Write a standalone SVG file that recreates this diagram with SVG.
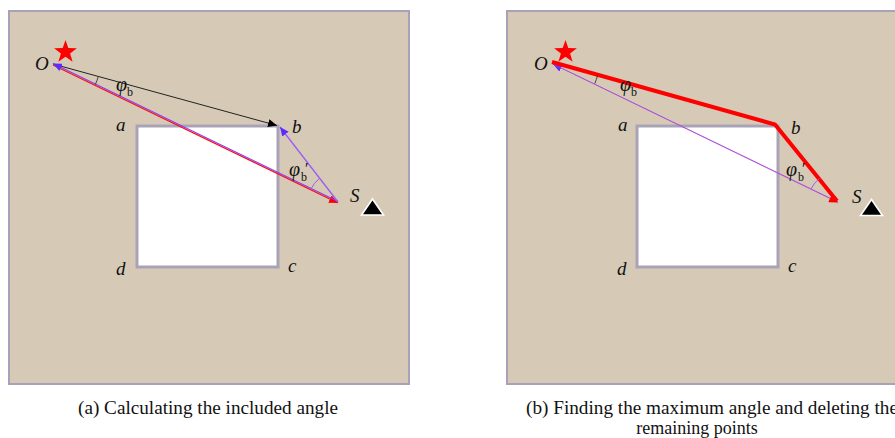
<svg xmlns="http://www.w3.org/2000/svg" width="895" height="438" viewBox="0 0 895 438">
  <style>
    .panel { fill: #d6cab6; stroke: #a9a1b7; stroke-width: 2; }
    .hole { fill: #ffffff; stroke: #a9a3b8; stroke-width: 3; }
    .serif { font-family: 'Liberation Serif', 'DejaVu Serif', serif; }
    .lbl { font-style: italic; font-size: 19px; fill: #111; }
    .phi { font-style: italic; font-size: 20px; fill: #111; }
    .sub { font-style: normal; font-size: 12px; }
    .prime { font-style: normal; font-size: 16px; }
    .cap { font-size: 18px; fill: #111; }
    .tri { fill: #000; stroke: #fff; stroke-width: 1.6; stroke-linejoin: miter; }
    .star { fill: #ff0000; }
  </style>
  <defs>
    <marker id="ahBlack" markerUnits="userSpaceOnUse" markerWidth="10" markerHeight="8" refX="9" refY="4" orient="auto">
      <path d="M0,0 L9,4 L0,8 z" fill="#000"/>
    </marker>
    <marker id="ahBlue" markerUnits="userSpaceOnUse" markerWidth="10" markerHeight="8" refX="9" refY="4" orient="auto">
      <path d="M0,0 L9,4 L0,8 z" fill="#5a2cff"/>
    </marker>
    <marker id="ahRed" markerUnits="userSpaceOnUse" markerWidth="10" markerHeight="8" refX="9" refY="4" orient="auto">
      <path d="M0,0 L9,4 L0,8 z" fill="#ff0000"/>
    </marker>
    <polygon id="star" class="star" points="0,-12 2.8,-3.9 11.4,-3.7 4.6,1.5 7.1,9.7 0,4.8 -7.1,9.7 -4.6,1.5 -11.4,-3.7 -2.8,-3.9"/>
    <polygon id="tri" class="tri" points="0,-16 11,0 -11,0"/>
  </defs>

  <!-- Panel (a) -->
  <g id="panel-a">
    <rect class="panel" x="9" y="11" width="400" height="373"/>
    <rect class="hole" x="137" y="126" width="141" height="141"/>
  </g>
  <g id="a-node-O">
    <use href="#star" x="65.5" y="52"/>
    <text class="serif lbl" x="35" y="70">O</text>
  </g>
  <g id="a-node-a"><text class="serif lbl" x="116" y="131">a</text></g>
  <g id="a-node-b"><text class="serif lbl" x="292" y="133">b</text></g>
  <g id="a-node-c"><text class="serif lbl" x="288" y="272">c</text></g>
  <g id="a-node-d"><text class="serif lbl" x="116" y="275">d</text></g>
  <g id="a-node-S">
    <text class="serif lbl" x="350" y="202">S</text>
    <use href="#tri" x="372.5" y="215"/>
  </g>
  <g id="a-connectors" fill="none">
    <line x1="53" y1="64" x2="277" y2="125.5" stroke="#222" stroke-width="1" marker-end="url(#ahBlack)"/>
    <line x1="53" y1="65" x2="338" y2="203" stroke="#ff1010" stroke-width="1.3" marker-end="url(#ahRed)"/>
    <line x1="338" y1="201.5" x2="53" y2="63.5" stroke="#8a3cf0" stroke-width="1.2" marker-end="url(#ahBlue)"/>
    <line x1="338" y1="202" x2="280" y2="127" stroke="#9a5cf0" stroke-width="1.3" marker-end="url(#ahBlue)"/>
    <path d="M98.3,76.5 A47,47 0 0 1 95.3,84.5" stroke="#333" stroke-width="0.9"/>
    <path d="M311,188.9 A30,30 0 0 1 319.4,178.5" stroke="#9a5cf0" stroke-width="1"/>
  </g>
  <g id="a-angle-labels" class="serif">
    <text class="phi" x="116" y="91">φ<tspan class="sub" dy="5">b</tspan></text>
    <text class="phi" x="289" y="176">φ<tspan class="sub" dx="1" dy="5">b</tspan><tspan class="prime" dx="-2" dy="-7">′</tspan></text>
  </g>

  <!-- Panel (b) -->
  <g id="panel-b">
    <rect class="panel" x="507" y="11" width="400" height="373"/>
    <rect class="hole" x="637" y="126" width="141" height="141"/>
  </g>
  <g id="b-node-O">
    <use href="#star" x="565.5" y="52"/>
    <text class="serif lbl" x="534" y="70">O</text>
  </g>
  <g id="b-node-a"><text class="serif lbl" x="618" y="131">a</text></g>
  <g id="b-node-b"><text class="serif lbl" x="791" y="134">b</text></g>
  <g id="b-node-c"><text class="serif lbl" x="788" y="272">c</text></g>
  <g id="b-node-d"><text class="serif lbl" x="617" y="275">d</text></g>
  <g id="b-node-S">
    <text class="serif lbl" x="852" y="203">S</text>
    <use href="#tri" x="871.5" y="215.5"/>
  </g>
  <g id="b-connectors" fill="none">
    <line x1="838" y1="202" x2="553" y2="64" stroke="#b050d8" stroke-width="1" marker-end="url(#ahBlue)"/>
    <line x1="553" y1="64" x2="838" y2="202.5" stroke="#b050d8" stroke-width="0.6" marker-end="url(#ahRed)"/>
    <polyline points="552,62 775,124.5 837,201" stroke="#ff0000" stroke-width="4" stroke-linejoin="miter"/>
    <path d="M597.5,75.5 A47,47 0 0 1 594.8,83.5" stroke="#333" stroke-width="0.9"/>
    <path d="M811,188.9 A30,30 0 0 1 819.4,178.5" stroke="#9a5cf0" stroke-width="1"/>
  </g>
  <g id="b-angle-labels" class="serif">
    <text class="phi" x="620" y="91">φ<tspan class="sub" dy="5">b</tspan></text>
    <text class="phi" x="786" y="176">φ<tspan class="sub" dx="1" dy="5">b</tspan><tspan class="prime" dx="-2" dy="-7">′</tspan></text>
  </g>

  <!-- Captions -->
  <g id="captions" class="serif">
    <text class="cap" x="78" y="414" textLength="260" lengthAdjust="spacingAndGlyphs">(a) Calculating the included angle</text>
    <text class="cap" x="526" y="414" textLength="372" lengthAdjust="spacingAndGlyphs">(b) Finding the maximum angle and deleting the</text>
    <text class="cap" x="697" y="434" text-anchor="middle">remaining points</text>
  </g>
</svg>
